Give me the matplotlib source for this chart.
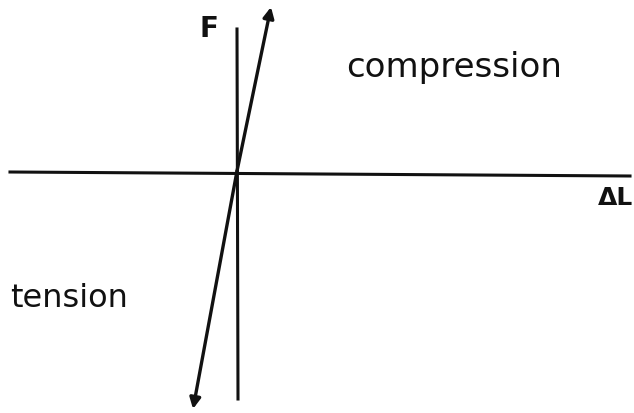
import matplotlib.pyplot as plt

# hand drawn sketch, coordinates in image pixels (y down)
h_axis_x = [10, 630]
h_axis_y = [173, 177]
v_axis_x = [237, 238]
v_axis_y = [30, 400]
stiff_x = [193, 271]
stiff_y = [410, 8]

labels = ['F', 'compression', 'ΔL', 'tension']
label_x = [209, 454, 615, 69]
label_y = [37, 77, 205, 307]  # baselines
label_size = [20, 24.5, 18, 23]
label_weight = ['bold', 'normal', 'bold', 'normal']

fig = plt.figure(figsize=(6.34, 4.14), dpi=100)
ax = fig.add_axes([0, 0, 1, 1])
ax.set_xlim(0, 634)
ax.set_ylim(414, 0)
ax.axis('off')

ax.plot(h_axis_x, h_axis_y, color='#111111', lw=2.2)
ax.plot(v_axis_x, v_axis_y, color='#111111', lw=2.2)

# double headed line through the origin
mid = (237, 172)
for tip in [(stiff_x[0], stiff_y[0]), (stiff_x[1], stiff_y[1])]:
    ax.annotate('', xy=tip, xytext=mid,
                arrowprops=dict(arrowstyle='-|>', color='#111111', lw=2.4,
                                mutation_scale=16, shrinkA=0, shrinkB=0))

for t, x, y, s, w in zip(labels, label_x, label_y, label_size, label_weight):
    ax.text(x, y, t, ha='center', va='baseline', fontsize=s, fontweight=w,
            color='#111111', family='DejaVu Sans')

fig.savefig('out.png', dpi=100)
